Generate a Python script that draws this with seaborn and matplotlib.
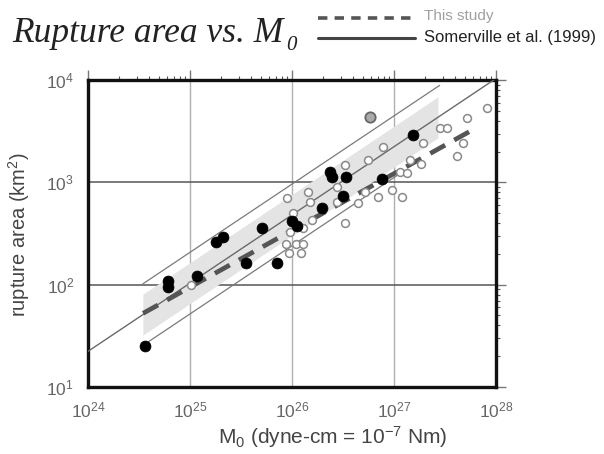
import numpy as np
import matplotlib
matplotlib.use("Agg")
import matplotlib.pyplot as plt
import seaborn as sns
import pandas as pd
from matplotlib.lines import Line2D

# ---- data ----
filled_m0 = [3.6e24, 6.1e24, 6.1e24, 1.17e25, 1.8e25, 2.1e25, 3.54e25, 5.08e25, 7.1e25,
             1.0e26, 1.12e26, 1.97e26, 2.36e26, 2.47e26, 3.38e26, 3.16e26, 7.6e26, 1.53e27]
filled_area = [25, 109, 95, 122, 261, 292, 163, 358, 163,
               420, 375, 562, 1265, 1130, 1130, 737, 1080, 2900]

gray_m0 = [5.8e26]
gray_area = [4360]

open_m0 = [1.02e25, 8.9e25, 1.02e26, 1.44e26, 1.5e26, 1.57e26, 1.28e26, 9.55e25,
           8.7e25, 1.09e26, 1.28e26, 9.35e25, 1.22e26, 2.76e26, 2.76e26, 3.31e26,
           3.31e26, 4.43e26, 5.2e26, 6.97e26, 5.56e26, 7.8e26, 9.55e26, 1.2e27,
           1.15e27, 1.34e27, 1.44e27, 1.84e27, 1.92e27, 2.82e27, 3.3e27, 4.74e27,
           4.15e27, 5.2e27, 8.17e27]
open_area = [99, 705, 502, 805, 643, 429, 358, 327,
             250, 250, 250, 204, 204, 900, 643, 401,
             1480, 630, 805, 719, 1655, 2218, 843, 719,
             1265, 1237, 1655, 1512, 2427, 3400, 3400, 2427,
             1811, 4270, 5340]

# Somerville et al. (1999): A = 2.23e-15 * M0^(2/3)
somerville_coef = 2.23e-15
somerville_exp = 2.0 / 3.0
somerville_range = [1e24, 1e28]
bound_upper_range = [3.45e24, 2.8e27]
bound_lower_range = [3.9e24, 1.2e27]
band_range = [3.45e24, 2.7e27]

# This study (dashed): log A = 1.72 + 0.555 (log M0 - 24.54)
study_logA0 = 1.72
study_logM0 = 24.54
study_slope = 0.555
study_range = [3.47e24, 6.6e27]

x_ticks = [1e24, 1e25, 1e26, 1e27, 1e28]
x_ticklabels = [r"$10^{24}$", r"$10^{25}$", r"$10^{26}$", r"$10^{27}$", r"$10^{28}$"]
y_ticks = [1e1, 1e2, 1e3, 1e4]
y_ticklabels = [r"$10^{1}$", r"$10^{2}$", r"$10^{3}$", r"$10^{4}$"]


def somerville(m, factor=1.0):
    return somerville_coef * np.power(m, somerville_exp) * factor


def study(m):
    return 10 ** (study_logA0 + study_slope * (np.log10(m) - study_logM0))


sns.set_theme(style="white")
plt.rcParams["font.family"] = ["Liberation Sans", "DejaVu Sans"]
plt.rcParams["mathtext.fontset"] = "custom"
plt.rcParams["mathtext.rm"] = "Liberation Sans"
plt.rcParams["mathtext.it"] = "Liberation Sans:italic"

fig = plt.figure(figsize=(6.04, 4.54), dpi=100)
ax = fig.add_axes([88 / 604, 1 - 387 / 454, 408 / 604, 307 / 454])
ax.set_xscale("log")
ax.set_yscale("log")
ax.set_xlim(1e24, 1e28)
ax.set_ylim(1e1, 1e4)

# grid lines
for xt in x_ticks[1:-1]:
    ax.axvline(xt, color="#b0b0b0", lw=1.0, zorder=1)
for yt in y_ticks[1:-1]:
    ax.axhline(yt, color="#555555", lw=1.1, zorder=1)

# gray band
mb = np.logspace(np.log10(band_range[0]), np.log10(band_range[1]), 50)
ax.fill_between(mb, somerville(mb, 10 ** -0.2), somerville(mb, 10 ** 0.2),
                color="#e4e4e4", lw=0, zorder=2)

# Somerville lines
ms = np.array(somerville_range)
df_s = pd.DataFrame({"m": ms, "a": somerville(ms)})
sns.lineplot(data=df_s, x="m", y="a", ax=ax, color="#6a6a6a", lw=1.0, zorder=3)
mu = np.array(bound_upper_range)
sns.lineplot(x=mu, y=somerville(mu, 2.0), ax=ax, color="#7a7a7a", lw=0.9, zorder=3)
ml = np.array(bound_lower_range)
sns.lineplot(x=ml, y=somerville(ml, 0.5), ax=ax, color="#7a7a7a", lw=0.9, zorder=3)

# This study dashed
mt = np.array(study_range)
sns.lineplot(x=mt, y=study(mt), ax=ax, color="#555555", lw=3.4, zorder=4,
             linestyle=(0, (3.6, 2.2)))

# points
sns.scatterplot(x=open_m0, y=open_area, ax=ax, s=32, facecolor="white",
                edgecolor="#8a8a8a", linewidth=1.1, zorder=5)
sns.scatterplot(x=gray_m0, y=gray_area, ax=ax, s=55, color="#aaaaaa",
                edgecolor="#666666", linewidth=1.3, zorder=5)
sns.scatterplot(x=filled_m0, y=filled_area, ax=ax, s=62, color="black",
                edgecolor="black", linewidth=0.5, zorder=6)

# axes style
for sp in ax.spines.values():
    sp.set_linewidth(2.4)
    sp.set_color("#111111")
ax.set_xticks(x_ticks)
ax.set_xticklabels(x_ticklabels)
ax.set_yticks(y_ticks)
ax.set_yticklabels(y_ticklabels)
ax.xaxis.set_minor_locator(matplotlib.ticker.LogLocator(base=10, subs=np.arange(2, 10)))
ax.yaxis.set_minor_locator(matplotlib.ticker.LogLocator(base=10, subs=np.arange(2, 10)))
ax.xaxis.set_minor_formatter(matplotlib.ticker.NullFormatter())
ax.yaxis.set_minor_formatter(matplotlib.ticker.NullFormatter())
ax.tick_params(which="major", direction="out", length=7, width=1.0, color="#777777",
               labelsize=12.5, labelcolor="#666666", top=True, right=True,
               labeltop=False, labelright=False, pad=3)
ax.tick_params(which="minor", direction="out", length=3, width=0.8, color="#555555",
               top=True, right=True)
ax.set_xlabel("")
ax.set_ylabel("")
ax.grid(False)

fig.text(218 / 604, 1 - 437 / 454, r"M$_0$ (dyne-cm = 10$^{-7}$ Nm)", fontsize=15,
         color="#444444", va="center", ha="left")
fig.text(19 / 604, 1 - 235 / 454, r"rupture area (km$^2$)", fontsize=14.5,
         color="#444444", va="center", ha="center", rotation=90)

# title and legend in header
fig.text(12 / 604, 1 - 42 / 454, "Rupture area vs. M", family="Liberation Serif",
         style="italic", fontsize=25.5, color="#222222")
fig.text(286 / 604, 1 - 50 / 454, "0", family="Liberation Serif", style="italic",
         fontsize=15, color="#222222")
fig.add_artist(Line2D([318 / 604, 415 / 604], [1 - 18 / 454, 1 - 18 / 454],
                      color="#555555", lw=2.6, linestyle=(0, (2.6, 2))))
fig.add_artist(Line2D([318 / 604, 415 / 604], [1 - 38 / 454, 1 - 38 / 454],
                      color="#444444", lw=2.2))
fig.text(424 / 604, 1 - 20 / 454, "This study", fontsize=11, color="#a0a0a0")
fig.text(424 / 604, 1 - 42 / 454, "Somerville et al. (1999)", fontsize=12, color="#222222")

fig.savefig("out.png", dpi=100)
